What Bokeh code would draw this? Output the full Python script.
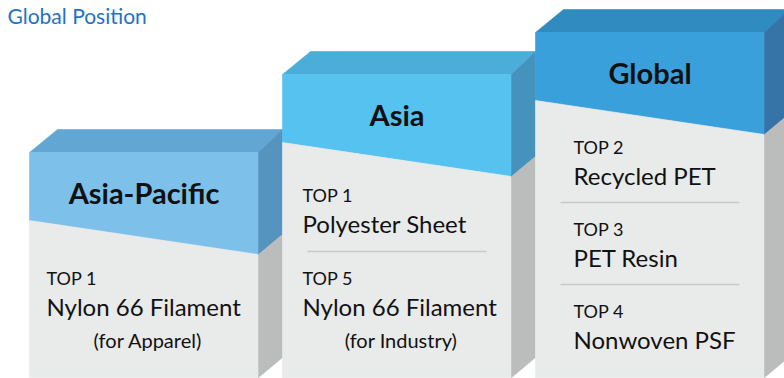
from bokeh.plotting import figure
from bokeh.models import Range1d
from bokeh.core.properties import value
from bokeh.embed import file_html
from bokeh.resources import INLINE

# ---------------- data ----------------
title = "Global Position"
regions = ["Asia-Pacific", "Asia", "Global"]
item_region = [0, 1, 1, 2, 2, 2]
item_rank = ["TOP 1", "TOP 1", "TOP 5", "TOP 2", "TOP 3", "TOP 4"]
item_product = ["Nylon 66 Filament", "Polyester Sheet", "Nylon 66 Filament",
                "Recycled PET", "PET Resin", "Nonwoven PSF"]
item_note = ["(for Apparel)", "", "(for Industry)", "", "", ""]

# ---------------- layout / style ----------------
W, H = 784, 378
box_left = [29, 282, 535]
box_top = [152, 74, 32]
box_w = 229
box_bottom = 377
band_l, band_r = 68, 102
back_dx_l, back_dx_r, back_dy, side_dy = 28, 24, 23, 20
text_indent = [17, 20, 38]
first_rank_y = [284, 201, 153]
item_pitch = [0, 83, 82]

top_col = ["#62a7d3", "#4aaed9", "#2f8bc0"]
front_col = ["#7dc0ea", "#55c2f0", "#3aa0db"]
side_col = ["#5594be", "#4592bd", "#3673a7"]
gray_front = "#e9eaea"
gray_side = "#bbbcbc"
FONT = "Lato"
SZ_HEAD, SZ_RANK, SZ_PROD, SZ_NOTE, SZ_TITLE = 29, 18, 24, 20, 21
BASE_FIX = 0.37  # baseline correction (fraction of font size)


def fix(y, size):
    return y - BASE_FIX * size


p = figure(width=W, height=H, x_range=Range1d(0, W), y_range=Range1d(H, 0),
           output_backend="svg", toolbar_location=None, min_border=0,
           x_axis_location=None, y_axis_location=None)
p.grid.visible = False
p.outline_line_color = None
p.background_fill_color = "white"
p.border_fill_color = "white"

xs, ys, cols = [], [], []
for i in range(len(regions)):
    L = box_left[i]; R = L + box_w; T = box_top[i]; B = box_bottom
    bl, br = T + band_l, T + band_r
    polys = [
        ([L, L + back_dx_l, R + back_dx_r, R], [T, T - back_dy, T - back_dy, T], top_col[i]),
        ([L, R, R, L], [T, T, br, bl], front_col[i]),
        ([L, R, R, L], [bl, br, B, B], gray_front),
        ([R, R + back_dx_r, R + back_dx_r, R], [T, T - back_dy, br - side_dy, br], side_col[i]),
        ([R, R + back_dx_r, R + back_dx_r, R], [br, br - side_dy, B - side_dy, B], gray_side),
    ]
    for px, py, c in polys:
        xs.append(px); ys.append(py); cols.append(c)
p.patches(xs=xs, ys=ys, fill_color=cols, line_color=cols, line_width=0.6)

# headers
p.text(x=[box_left[i] + box_w / 2 for i in range(3)],
       y=[fix(box_top[i] + 51, SZ_HEAD) for i in range(3)], text=regions,
       text_font=value(FONT), text_font_style="bold", text_font_size=f"{SZ_HEAD}px",
       text_align="center", text_baseline="alphabetic", text_color="#111111")

# items
rx, ry, py_, nx, ny, notes = [], [], [], [], [], []
dx0, dx1, dy0 = [], [], []
count = [0, 0, 0]
for k, r in enumerate(item_region):
    j = count[r]; count[r] += 1
    y0 = first_rank_y[r] + j * item_pitch[r]
    x0 = box_left[r] + text_indent[r]
    rx.append(x0); ry.append(fix(y0, SZ_RANK))
    py_.append(fix(y0 + 31, SZ_PROD))
    if item_note[k]:
        nx.append(box_left[r] + box_w / 2 + 4); ny.append(fix(y0 + 63, SZ_NOTE)); notes.append(item_note[k])
    if j > 0:
        dx0.append(box_left[r] + 25); dx1.append(box_left[r] + box_w - 25)
        dy0.append(y0 - 33)

p.segment(x0=dx0, y0=dy0, x1=dx1, y1=dy0, line_color="#c8caca", line_width=1.5)
p.text(x=rx, y=ry, text=item_rank, text_font=value(FONT), text_font_size=f"{SZ_RANK}px",
       text_baseline="alphabetic", text_color="#111111")
p.text(x=rx, y=py_, text=item_product, text_font=value(FONT), text_font_size=f"{SZ_PROD}px",
       text_baseline="alphabetic", text_color="#111111")
p.text(x=nx, y=ny, text=notes, text_font=value(FONT), text_font_size=f"{SZ_NOTE}px",
       text_align="center", text_baseline="alphabetic", text_color="#111111")

# title
p.text(x=[7], y=[fix(23, SZ_TITLE)], text=[title], text_font=value(FONT),
       text_font_size=f"{SZ_TITLE}px", text_baseline="alphabetic", text_color="#1f72c4")

open("out.html", "w").write(file_html(p, INLINE))
